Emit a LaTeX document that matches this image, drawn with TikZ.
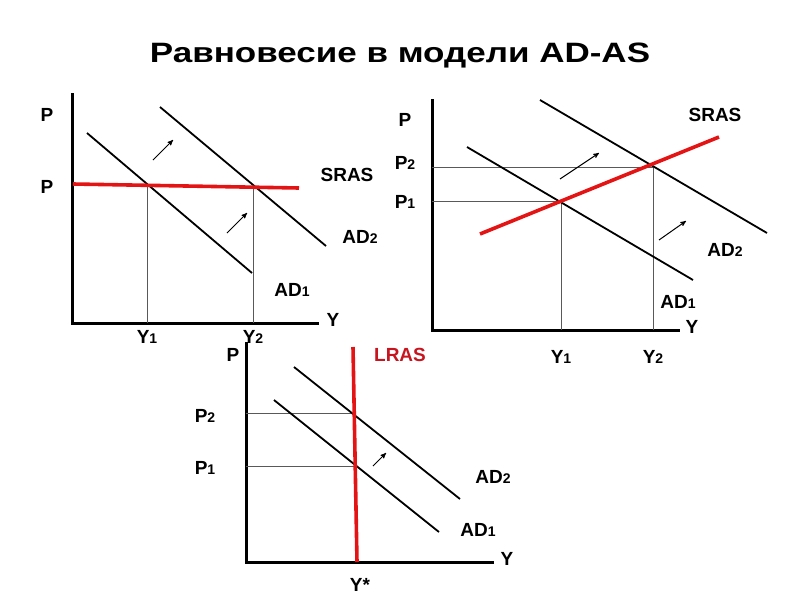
\documentclass[tikz,border=0pt]{standalone}
\usepackage{fontspec}
\setmainfont{Liberation Sans}
\usepackage{tikz}
\usetikzlibrary{arrows,positioning}
\definecolor{asred}{RGB}{228,20,20}
\definecolor{lrasred}{RGB}{200,20,30}
\newcommand\lowdig[1]{\raisebox{-0.5pt}{\fontsize{14}{14}\selectfont #1}}

\begin{document}
\begin{tikzpicture}[x=1pt,y=-1pt]
\tikzstyle{axis}=[line width=3pt,line cap=rect]
\tikzstyle{curve}=[line width=1.8pt]
\tikzstyle{supply}=[line width=3.6pt,asred]
\tikzstyle{guide}=[line width=0.8pt,black!65]
\tikzstyle{push}=[line width=1pt,-stealth']
\tikzstyle{lab}=[font=\fontsize{19}{21}\selectfont\bfseries,inner sep=0pt]
\useasboundingbox (0,0) rectangle (800,600);
\node[font=\fontsize{28}{32}\selectfont\bfseries] (title) at (400,56) {\scalebox{1.25}[1]{Равновесие в модели AD-AS}};
% first panel
\coordinate (o1) at (72,323);
\draw[axis] (72,94) -- (o1) -- (317,323);
\coordinate (s1a) at (73,184); \coordinate (s1b) at (299,188);
\coordinate (d1a) at (87,133); \coordinate (d1b) at (252,273);
\coordinate (d2a) at (160,107); \coordinate (d2b) at (326,246);
\draw[guide] (147,185) -- (147,323);
\draw[guide] (253,187) -- (253,323);
\draw[curve] (d1a) -- (d1b);
\draw[curve] (d2a) -- (d2b);
\draw[supply] (s1a) -- (s1b);
\draw[push] (153,160) -- (173,140);
\draw[push] (227,233) -- (247,213);
\node[lab] (p1top) at (47,115) {P};
\node[lab] (p1mid) at (47,187) {P};
\node[lab] (sras1) at (347,175) {SRAS};
\node[lab] (ad2a) at (360,237) {AD\lowdig{2}};
\node[lab] (ad1a) at (292,290) {AD\lowdig{1}};
\node[lab] (y1ax) at (333,320) {Y};
\node[lab] (y1a) at (147,337) {Y\lowdig{1}};
\node[lab] (y2a) at (253,337) {Y\lowdig{2}};
% second panel
\coordinate (o2) at (432,330);
\draw[axis] (432,100) -- (o2) -- (678,330);
\draw[guide] (432,167) -- (653,167) -- (653,330);
\draw[guide] (432,201) -- (561,201) -- (561,330);
\coordinate (s2a) at (480,234); \coordinate (s2b) at (719,137);
\coordinate (e1a) at (467,147); \coordinate (e1b) at (693,280);
\coordinate (e2a) at (540,100); \coordinate (e2b) at (767,233);
\draw[curve] (e1a) -- (e1b);
\draw[curve] (e2a) -- (e2b);
\draw[supply] (s2a) -- (s2b);
\draw[push] (560,179) -- (599,153);
\draw[push] (659,240) -- (686,221);
\node[lab] (p2top) at (405,120) {P};
\node[lab] (p2b) at (405,163) {P\lowdig{2}};
\node[lab] (p2a) at (405,202) {P\lowdig{1}};
\node[lab] (sras2) at (715,115) {SRAS};
\node[lab] (ad2b) at (725,250) {AD\lowdig{2}};
\node[lab] (ad1b) at (678,302) {AD\lowdig{1}};
\node[lab] (y2ax) at (692,327) {Y};
\node[lab] (y1b) at (561,357) {Y\lowdig{1}};
\node[lab] (y2b) at (653,357) {Y\lowdig{2}};
% third panel
\coordinate (o3) at (246,562);
\draw[axis] (246,343) -- (o3) -- (492,562);
\draw[guide] (246,413) -- (353,413);
\draw[guide] (246,466) -- (355,466);
\coordinate (l3a) at (353,347); \coordinate (l3b) at (357,562);
\coordinate (f1a) at (274,400); \coordinate (f1b) at (439,532);
\coordinate (f2a) at (294,367); \coordinate (f2b) at (460,499);
\draw[curve] (f1a) -- (f1b);
\draw[curve] (f2a) -- (f2b);
\draw[supply] (l3a) -- (l3b);
\draw[push] (373,466) -- (386,453);
\node[lab] (p3top) at (233,355) {P};
\node[lab] (p3b) at (205,416) {P\lowdig{2}};
\node[lab] (p3a) at (205,468) {P\lowdig{1}};
\node[lab,text=lrasred] (lras) at (400,355) {LRAS};
\node[lab] (ad2c) at (493,477) {AD\lowdig{2}};
\node[lab] (ad1c) at (478,530) {AD\lowdig{1}};
\node[lab] (y3ax) at (507,559) {Y};
\node[lab] (ystar) at (360,585) {Y*};
\end{tikzpicture}
\end{document}
